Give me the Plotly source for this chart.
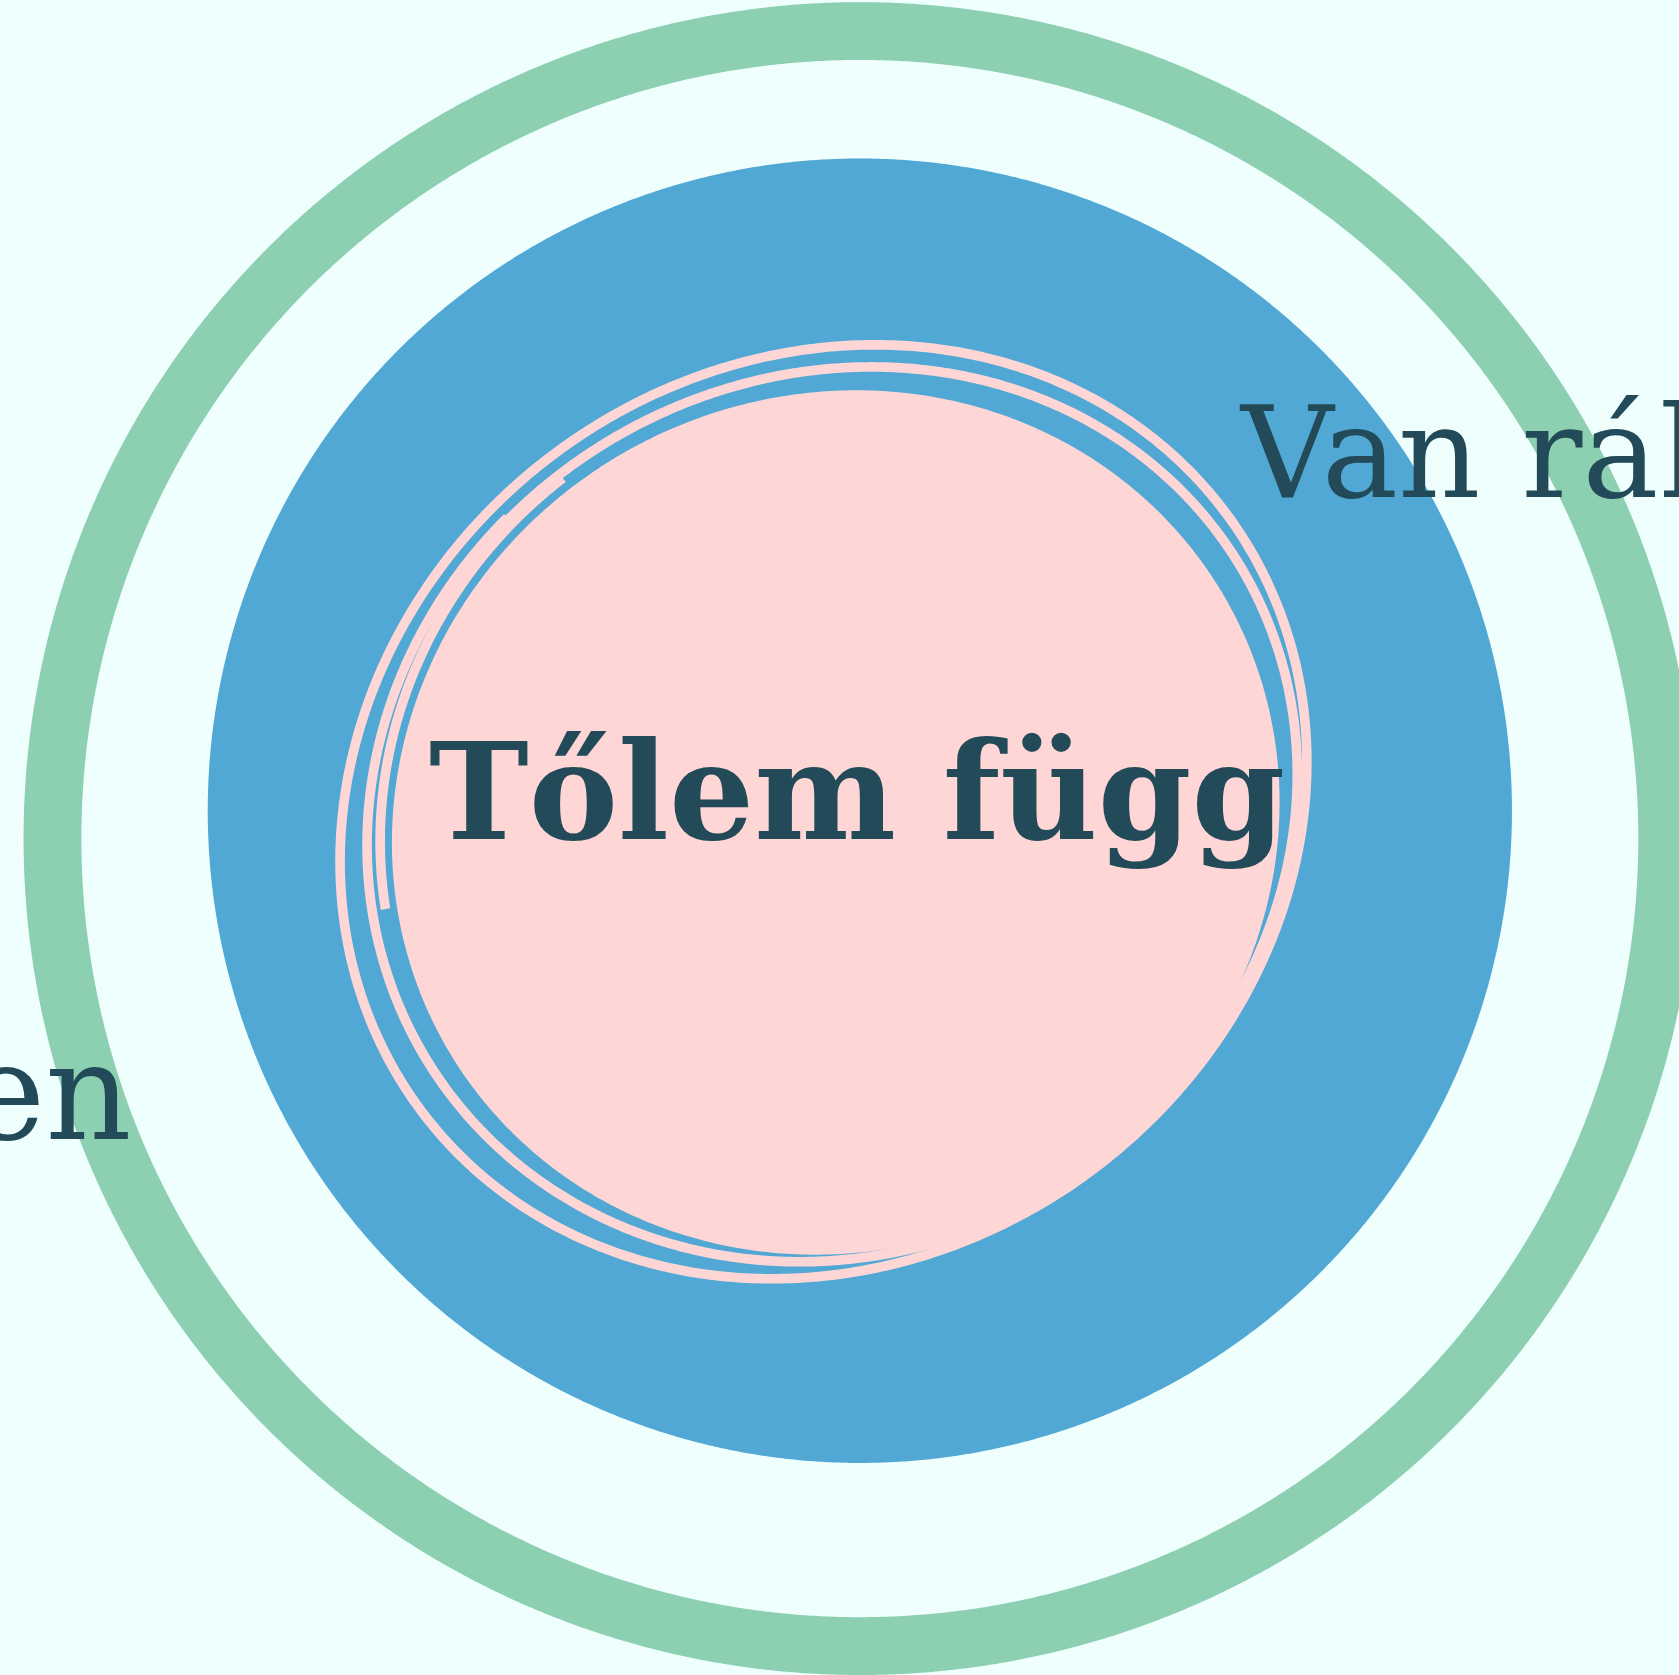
import numpy as np
import plotly.graph_objects as go

# ---- data (in "view units": 1568 x 1564 canvas) ----
circle_names = ["Nincs ráhatásom", "Van ráhatásom", "Tőlem függ"]
circle_cx = [803, 803, 780]
circle_cy = [783, 757, 766]
circle_r = [754, 609, 412]
labels = ["Nincs ráhatásom semmiképpen", "Van ráhatásom", "Tőlem függ"]
label_x = [125, 1155, 800]
label_y = [1063, 463, 783]
label_size = [134, 128, 134]
label_bold = [False, False, True]
label_anchor = ["right", "left", "center"]

BG = "#effffe"
GREEN = "#8dd0b1"
BLUE = "#51a8d4"
PINK = "#ffd6d6"
TEXT = "#224a58"

W, H = 1679, 1675
VW, VH = 1568, 1564
PX = W / VW

fig = go.Figure()


def ellipse(cx, cy, a, b, phi_deg, t0, t1, n=600):
    t = np.radians(np.linspace(t0, t1, n))
    p = np.radians(phi_deg)
    ex, ey = a * np.cos(t), b * np.sin(t)
    x = cx + ex * np.cos(p) - ey * np.sin(p)
    y = cy + ex * np.sin(p) + ey * np.cos(p)
    return x, y


def add_line(x, y, color, width):
    fig.add_trace(go.Scatter(x=x, y=y, mode="lines",
                             line=dict(color=color, width=width, simplify=False),
                             hoverinfo="skip", showlegend=False))


def add_fill(x, y, color):
    fig.add_trace(go.Scatter(x=x, y=y, mode="lines", fill="toself", fillcolor=color,
                             line=dict(color=color, width=0, simplify=False),
                             hoverinfo="skip", showlegend=False))


# outer ring (concern)
x, y = ellipse(circle_cx[0], circle_cy[0], circle_r[0], circle_r[0], 0, 0, 360, 1440)
add_line(x, y, GREEN, 54 * PX)
# influence disc
x, y = ellipse(circle_cx[1], circle_cy[1], circle_r[1], circle_r[1], 0, 0, 360, 1440)
add_fill(x, y, BLUE)

# control: hand-drawn ("rough") circle
cx, cy, r = circle_cx[2], circle_cy[2], circle_r[2]
# sketch style: (dx, dy, a-scale, b-scale, tilt, start, end)
fill_style = (0.5, 2, 1.019, 0.966, -30, 0, 360)
stroke_A = (-11, -8, 1.136, 1.015, -36, 255, 625)
wedge_A = (-11, -8, 1.136, 1.015, -36, 84, 110)
stroke_B1 = (-3, -8, 1.080, 0.981, -31, 254, 462)
stroke_B2 = (-5, -4, 1.068, 0.990, -30, 105, 254)
extra_strokes = [
    (0.5, 2, 1.045, 0.995, -30, 200, 262),
]
SW = 9 * PX

dx, dy, sa, sb, tilt, t0, t1 = fill_style
x, y = ellipse(cx + dx, cy + dy, r * sa, r * sb, tilt, t0, t1)
add_fill(x, y, PINK)
# wedge where the fill runs out to the outer stroke
dx, dy, sa, sb, tilt, t0, t1 = wedge_A
x, y = ellipse(cx + dx, cy + dy, r * sa, r * sb, tilt, t0, t1)
add_fill(np.r_[cx, x, cx], np.r_[cy, y, cy], PINK)

for st in [stroke_A, stroke_B1, stroke_B2] + extra_strokes:
    dx, dy, sa, sb, tilt, t0, t1 = st
    x, y = ellipse(cx + dx, cy + dy, r * sa, r * sb, tilt, t0, t1)
    add_line(x, y, PINK, SW)

# labels
for i, lab in enumerate(labels):
    txt = "<b>" + lab + "</b>" if label_bold[i] else lab
    fig.add_annotation(x=label_x[i], y=label_y[i], text=txt, showarrow=False,
                       xanchor=label_anchor[i], yanchor="bottom",
                       yshift=-0.26 * label_size[i],
                       font=dict(family="DejaVu Serif", size=label_size[i], color=TEXT))

fig.update_layout(
    width=W, height=H, margin=dict(l=0, r=0, t=0, b=0),
    paper_bgcolor=BG, plot_bgcolor=BG,
    xaxis=dict(range=[0, VW], visible=False, fixedrange=True),
    yaxis=dict(range=[VH, 0], visible=False, fixedrange=True),
    showlegend=False,
)
fig.write_html("out.html", config={"displayModeBar": False},
               post_script="document.body.style.margin='0';document.body.style.overflow='hidden';")
